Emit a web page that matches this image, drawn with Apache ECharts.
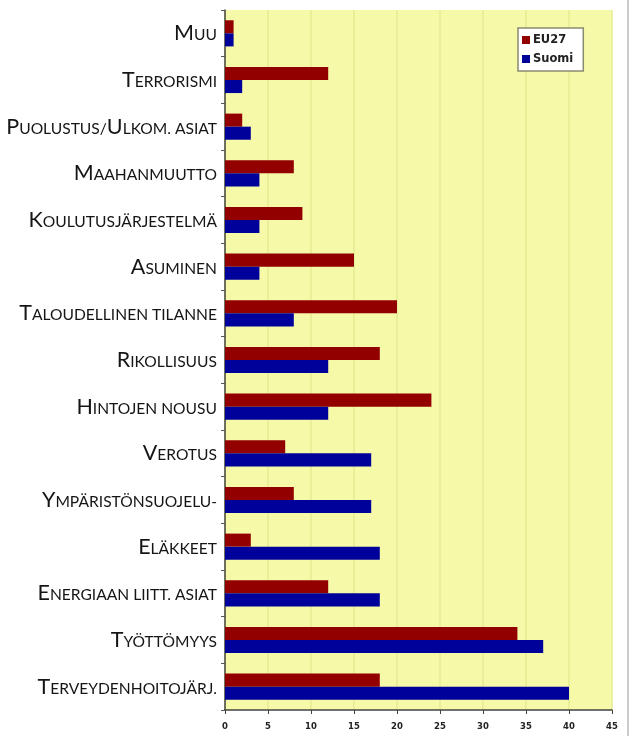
<!DOCTYPE html>
<html><head><meta charset="utf-8">
<script src="https://cdn.jsdelivr.net/npm/echarts@6/dist/echarts.min.js"></script>
<style>html,body{margin:0;padding:0;background:#fff}#c{width:632px;height:736px}</style>
</head><body><div id="c"></div>
<script>
const categories = ['Muu','Terrorismi','Puolustus/Ulkom. asiat','Maahanmuutto','Koulutusjärjestelmä','Asuminen','Taloudellinen tilanne','Rikollisuus','Hintojen nousu','Verotus','Ympäristönsuojelu-','Eläkkeet','Energiaan liitt. asiat','Työttömyys','Terveydenhoitojärj.'];
const eu27 = [1,12,2,8,9,15,20,18,24,7,8,3,12,34,18];
const suomi = [1,2,3,4,4,4,8,12,12,17,17,18,18,37,40];
const xTicks = [0,5,10,15,20,25,30,35,40,45];

function smallCaps(s){
  let out='', cur='', curType=null;
  for (const ch of s){
    const isUp = ch !== ch.toLowerCase() && ch === ch.toUpperCase();
    const isLow = ch !== ch.toUpperCase();
    let t = isUp ? 'b' : (isLow ? 's' : (curType || 'b'));
    if (t !== curType && curType !== null){ out += '{'+curType+'|'+cur+'}'; cur=''; }
    curType = t;
    cur += ch.toUpperCase();
  }
  if (cur) out += '{'+curType+'|'+cur+'}';
  return out;
}
const FONT = 'Lato';
const chart = echarts.init(document.getElementById('c'));
chart.setOption({
  animation:false,
  backgroundColor:'#ffffff',
  grid:{left:225,right:20,top:10,bottom:26,show:true,backgroundColor:'#f6f9a8',borderWidth:0},
  legend:{
    data:['EU27','Suomi'], orient:'vertical', left:518, top:28,
    backgroundColor:'#ffffff', borderColor:'#8a8a70', borderWidth:1.5,
    padding:[6,10,6,4], itemGap:7, itemWidth:8, itemHeight:8, icon:'rect',
    textStyle:{fontFamily:'DejaVu Sans',fontWeight:'bold',fontSize:11.5,color:'#222',padding:[0,0,0,-2]}
  },
  xAxis:{
    type:'value', min:0, max:45, interval:5,
    axisLine:{show:true,lineStyle:{color:'#444',width:1.5}},
    axisTick:{show:true,length:4,lineStyle:{color:'#444'}},
    axisLabel:{fontFamily:'DejaVu Sans',fontWeight:'bold',fontSize:8.5,color:'#222',margin:12,
      formatter:v=>xTicks.includes(v)?String(v):''},
    splitLine:{show:true,lineStyle:{color:'#e4eb90',width:1.5}}
  },
  yAxis:{
    type:'category', data:categories, inverse:true,
    axisLine:{show:true,lineStyle:{color:'#444',width:1.5}},
    axisTick:{show:true,length:4,lineStyle:{color:'#555'}},
    axisLabel:{margin:8, formatter:v=>smallCaps(v),
      rich:{
        b:{fontFamily:FONT,fontSize:21.5,color:'#151515',verticalAlign:'bottom',lineHeight:22},
        s:{fontFamily:FONT,fontSize:15.6,color:'#151515',verticalAlign:'bottom',lineHeight:22,padding:[0,0,1,0]}
      }}
  },
  series:[
    {name:'EU27',type:'bar',data:eu27,barGap:'0%',barCategoryGap:'44%',itemStyle:{color:'#930000'}},
    {name:'Suomi',type:'bar',data:suomi,barGap:'0%',barCategoryGap:'44%',itemStyle:{color:'#00009a'}}
  ],
  graphic:[{type:'line',shape:{x1:628,y1:0,x2:628,y2:736},style:{stroke:'#999',lineWidth:1}}]
});
</script></body></html>
